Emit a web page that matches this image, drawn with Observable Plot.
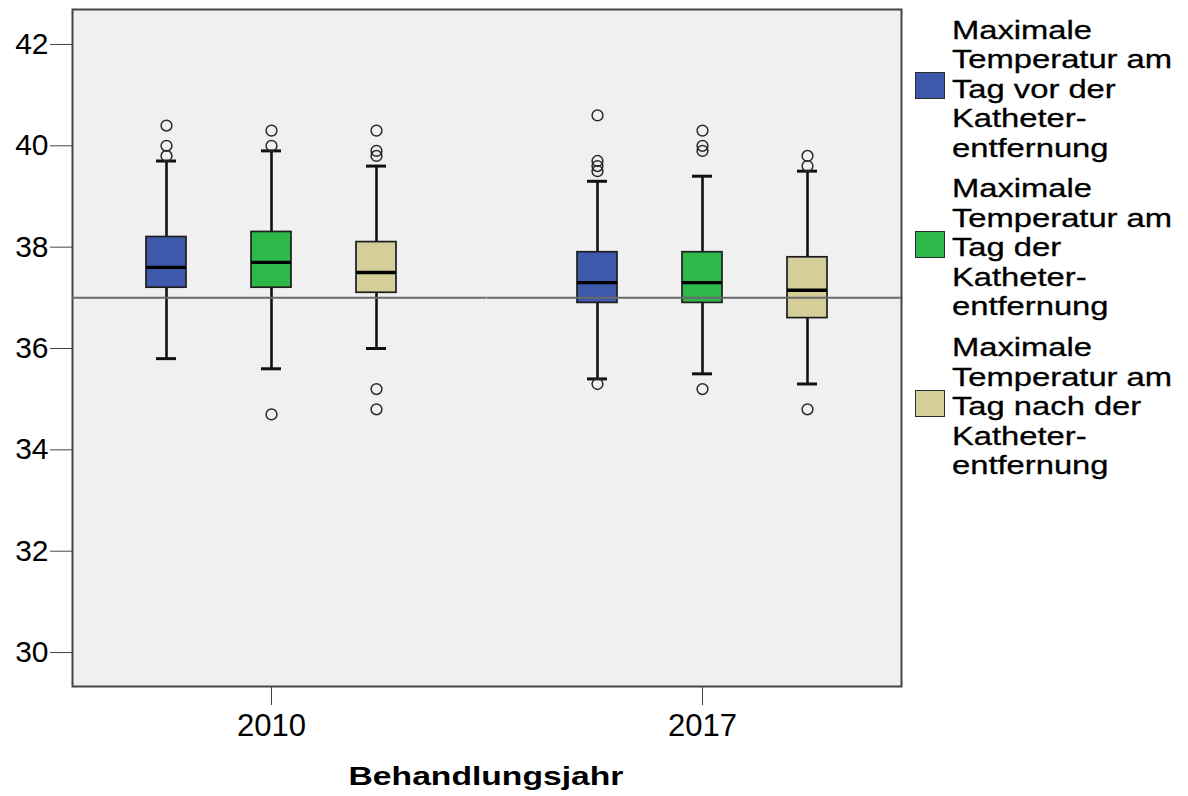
<!DOCTYPE html>
<html>
<head>
<meta charset="utf-8">
<script src="https://cdn.jsdelivr.net/npm/d3@7"></script>
<script src="https://cdn.jsdelivr.net/npm/@observablehq/plot@0.6"></script>
<style>
  body { margin: 0; background: #fff; font-family: "Liberation Sans", Arial, sans-serif; color: #000; }
  #chart { position: relative; width: 1188px; height: 796px; overflow: hidden; }
  #chart svg { position: absolute; left: 0; top: 0; }
  .axis-title {
    position: absolute; left: 486px; top: 762.5px;
    font-weight: bold; font-size: 26.5px; line-height: 26.5px; white-space: nowrap;
    transform: translateX(-50%) scaleX(1.27); transform-origin: center;
  }
  .legend-entry { position: absolute; left: 915px; }
  .legend-swatch { position: absolute; left: 0; width: 28px; height: 25px; border: 1.5px solid #2a2a2a; }
  .legend-text {
    position: absolute; left: 37px; top: 0; font-size: 26.5px; line-height: 29.5px; white-space: nowrap;
    transform: scaleX(1.235); transform-origin: left top; -webkit-text-stroke: 0.3px #000;
  }
</style>
</head>
<body>
<div id="chart"></div>
<script>
// Treatment years (x groups) and the three measured days (boxes within each year)
const years = ["2010", "2017"];
const seriesKeys = ["vor", "am", "nach"];
const seriesLabels = [
  ["Maximale", "Temperatur am", "Tag vor der", "Katheter-", "entfernung"],
  ["Maximale", "Temperatur am", "Tag der", "Katheter-", "entfernung"],
  ["Maximale", "Temperatur am", "Tag nach der", "Katheter-", "entfernung"]
];
const seriesColors = ["#3E58AC", "#2EB84A", "#D4CF98"];

// Box statistics, order: 2010 vor/am/nach, 2017 vor/am/nach
const lowerWhisker = [35.8, 35.6, 36.0, 35.4, 35.5, 35.3];
const q1           = [37.2, 37.2, 37.1, 36.9, 36.9, 36.6];
const median       = [37.6, 37.7, 37.5, 37.3, 37.3, 37.15];
const q3           = [38.2, 38.3, 38.1, 37.9, 37.9, 37.8];
const upperWhisker = [39.7, 39.9, 39.6, 39.3, 39.4, 39.5];
const outliers = [
  [40.4, 40.0, 39.8],
  [40.3, 40.0, 34.7],
  [40.3, 39.9, 39.8, 35.2, 34.8],
  [40.6, 39.7, 39.6, 39.5, 35.3],
  [40.3, 40.0, 39.9, 35.2],
  [39.8, 39.6, 34.8]
];

const referenceTemp = 37;
const yTicks = [30, 32, 34, 36, 38, 40, 42];
const yDomain = [29.33, 42.69];
const axisTitle = "Behandlungsjahr";

const stats = years.flatMap((year, i) => seriesKeys.map((series, j) => {
  const k = i * seriesKeys.length + j;
  return {year, series, lo: lowerWhisker[k], q1: q1[k], median: median[k], q3: q3[k], hi: upperWhisker[k]};
}));
const outlierRows = years.flatMap((year, i) => seriesKeys.flatMap((series, j) =>
  outliers[i * seriesKeys.length + j].map(value => ({year, series, value}))
));

// layout
const W = 1188, H = 796, mLeft = 72, mRight = 286;
const fxPadInner = 0.0756;
// the reference line bridges the gap between the two year panels
const facetStep = (W - mLeft - mRight) / (years.length - fxPadInner);
const halfGap = facetStep * fxPadInner / 2;

const box = {fx: "year", x: "series"};
const refStyle = {stroke: "#6a6a6a", strokeWidth: 2};

const plot = Plot.plot({
  width: W,
  height: H,
  marginLeft: mLeft,
  marginRight: mRight,
  marginTop: 9,
  marginBottom: 110,
  style: {fontFamily: "'Liberation Sans', Arial, sans-serif", background: "transparent", color: "#000", overflow: "visible"},
  fx: {domain: years, paddingInner: fxPadInner, paddingOuter: 0},
  x: {domain: seriesKeys, paddingInner: 0.617, paddingOuter: 0.6945, axis: null},
  y: {domain: yDomain},
  color: {domain: seriesKeys, range: seriesColors},
  marks: [
    Plot.frame({facet: "super", fill: "#F0F0F0", stroke: "#454545", strokeWidth: 2}),
    // whiskers and caps
    Plot.ruleX(stats, {...box, y1: "lo", y2: "q1", stroke: "#111", strokeWidth: 2.6}),
    Plot.ruleX(stats, {...box, y1: "q3", y2: "hi", stroke: "#111", strokeWidth: 2.6}),
    Plot.tickY(stats, {...box, y: "lo", insetLeft: 10, insetRight: 10, stroke: "#111", strokeWidth: 3}),
    Plot.tickY(stats, {...box, y: "hi", insetLeft: 10, insetRight: 10, stroke: "#111", strokeWidth: 3}),
    // interquartile boxes and medians
    Plot.barY(stats, {...box, y1: "q1", y2: "q3", fill: "series", stroke: "#1e1e1e", strokeWidth: 1.7}),
    Plot.tickY(stats, {...box, y: "median", stroke: "#000", strokeWidth: 3.3}),
    // outliers
    Plot.dot(outlierRows, {...box, y: "value", r: 5.4, fill: "none", stroke: "#2a2a2a", strokeWidth: 1.5}),
    // reference temperature line
    Plot.ruleY([referenceTemp], {fx: [years[0]], insetRight: -halfGap, ...refStyle}),
    Plot.ruleY([referenceTemp], {fx: [years[1]], insetLeft: -halfGap, ...refStyle}),
    Plot.axisY({ticks: yTicks, tickSize: 22, tickPadding: 2, fontSize: 30, stroke: "#444", label: null}),
    Plot.axisFx({anchor: "bottom", tickSize: 19, tickPadding: 8, fontSize: 31, stroke: "#444", label: null})
  ]
});

const chart = document.getElementById("chart");
chart.appendChild(plot);

const title = document.createElement("div");
title.className = "axis-title";
title.textContent = axisTitle;
chart.appendChild(title);

// legend: swatch beside a five-line label
seriesKeys.forEach((key, i) => {
  const entry = document.createElement("div");
  entry.className = "legend-entry";
  entry.style.top = (15.5 + i * 158.75) + "px";
  const sw = document.createElement("div");
  sw.className = "legend-swatch";
  sw.style.top = "56.5px";
  sw.style.background = seriesColors[i];
  const txt = document.createElement("div");
  txt.className = "legend-text";
  txt.innerHTML = seriesLabels[i].join("<br>");
  entry.appendChild(sw);
  entry.appendChild(txt);
  chart.appendChild(entry);
});
</script>
</body>
</html>
